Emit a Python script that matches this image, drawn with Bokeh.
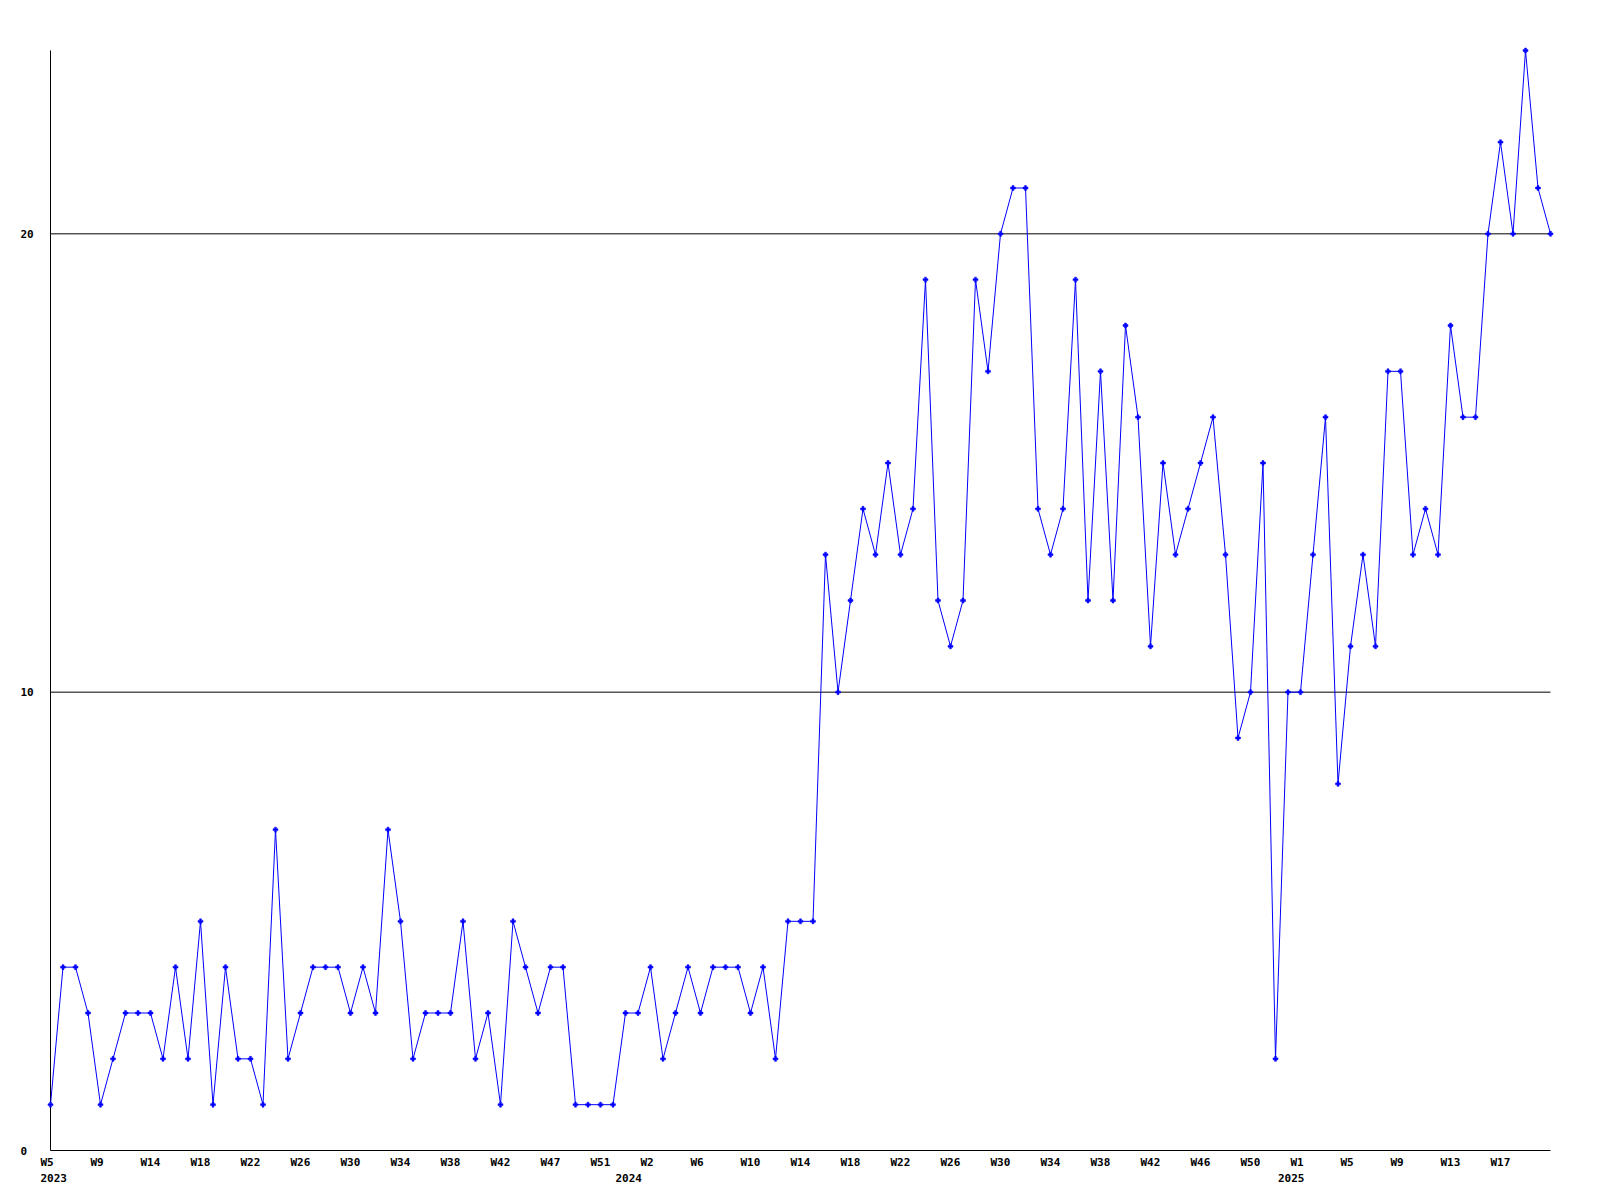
from bokeh.plotting import figure
from bokeh.models import ColumnDataSource, Range1d
from bokeh.core.properties import value
from bokeh.embed import file_html
from bokeh.resources import INLINE

# ---- data ----
values = [1, 4, 4, 3, 1, 2, 3, 3, 3, 2, 4, 2, 5, 1, 4, 2, 2, 1, 7, 2,
          3, 4, 4, 4, 3, 4, 3, 7, 5, 2, 3, 3, 3, 5, 2, 3, 1, 5, 4, 3,
          4, 4, 1, 1, 1, 1, 3, 3, 4, 2, 3, 4, 3, 4, 4, 4, 3, 4, 2, 5,
          5, 5, 13, 10, 12, 14, 13, 15, 13, 14, 19, 12, 11, 12, 19, 17, 20, 21, 21, 14,
          13, 14, 19, 12, 17, 12, 18, 16, 11, 15, 13, 14, 15, 16, 13, 9, 10, 15, 2, 10,
          10, 13, 16, 8, 11, 13, 11, 17, 17, 13, 14, 13, 18, 16, 16, 20, 22, 20, 24, 21,
          20]
week_index = list(range(len(values)))

week_labels = ["W5", "W9", "W14", "W18", "W22", "W26", "W30", "W34", "W38", "W42",
               "W47", "W51", "W2", "W6", "W10", "W14", "W18", "W22", "W26", "W30",
               "W34", "W38", "W42", "W46", "W50", "W1", "W5", "W9", "W13", "W17"]
week_label_index = list(range(0, 120, 4))

year_labels = ["2023", "2024", "2025"]
year_label_index = [0, 46, 99]

y_ticks = [0, 10, 20]
y_tick_labels = ["0", "10", "20"]

X_MIN, X_MAX = 0, 120
Y_MIN, Y_MAX = 0, 24

# ---- layout (pixels) ----
W, H = 1570, 1192
LEFT, TOP, BOTTOM_PX = 50, 50, 1150      # plot-area edges on the canvas
px_per_x = 12.5
px_per_y = (BOTTOM_PX - TOP) / (Y_MAX - Y_MIN)

x_range = Range1d(X_MIN - LEFT / px_per_x, X_MIN + (W - LEFT) / px_per_x)
y_range = Range1d(Y_MIN - (H - BOTTOM_PX) / px_per_y, Y_MAX + TOP / px_per_y)

p = figure(width=W, height=H, x_range=x_range, y_range=y_range,
           x_axis_location=None, y_axis_location=None,
           output_backend="svg", toolbar_location=None,
           min_border_left=0, min_border_right=0,
           min_border_top=0, min_border_bottom=0)
p.outline_line_color = None
p.background_fill_color = "white"
p.border_fill_color = "white"
p.grid.visible = False

# horizontal rules (value 0 is the x axis line) across the data span
p.segment(x0=[X_MIN] * len(y_ticks), y0=y_ticks, x1=[X_MAX] * len(y_ticks), y1=y_ticks,
          line_color="black", line_width=1)
# y axis line over the value span
p.segment(x0=[X_MIN], y0=[Y_MIN], x1=[X_MIN], y1=[Y_MAX],
          line_color="black", line_width=1)

src = ColumnDataSource(dict(x=week_index, y=values))
p.line("x", "y", source=src, line_color="#0000ff", line_width=1)
p.scatter("x", "y", source=src, marker="plus", size=5,
          fill_color="#0000ff", line_color="#0000ff", line_width=0.5)

FONT = value("DejaVu Sans Mono")
style = dict(text_font=FONT, text_font_style="bold", text_font_size="11px",
             text_color="black")

# week labels
p.text(x=week_label_index, y=[Y_MIN] * len(week_labels), text=week_labels,
       x_offset=-10, y_offset=12, text_align="left", text_baseline="middle", **style)
# year labels
p.text(x=year_label_index, y=[Y_MIN] * len(year_labels), text=year_labels,
       x_offset=-10, y_offset=27, text_align="left", text_baseline="middle", **style)
# y tick labels
p.text(x=[X_MIN] * len(y_ticks), y=y_ticks, text=y_tick_labels,
       x_offset=-30, y_offset=0, text_align="left", text_baseline="middle", **style)

open("out.html", "w").write(file_html(p, INLINE))
